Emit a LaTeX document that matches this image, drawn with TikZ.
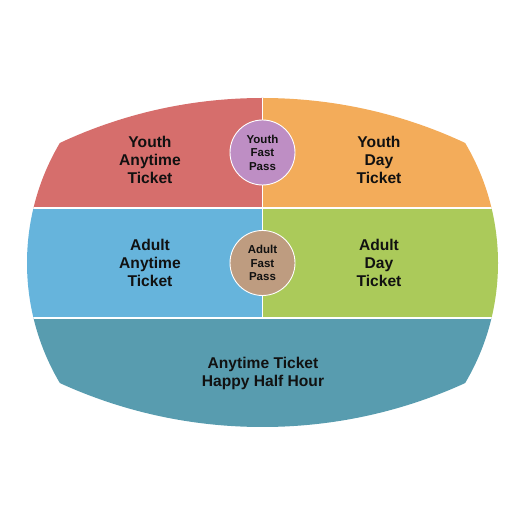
\documentclass[tikz,border=0pt]{standalone}
\usepackage{fontspec}
\setmainfont{Liberation Sans}
\definecolor{cRed}{HTML}{D66E6C}
\definecolor{cOrange}{HTML}{F3AC5A}
\definecolor{cBlue}{HTML}{66B4DC}
\definecolor{cGreen}{HTML}{ABCA5A}
\definecolor{cTeal}{HTML}{589CAF}
\definecolor{cPurple}{HTML}{BE8EC4}
\definecolor{cTan}{HTML}{BE9C80}
\definecolor{cText}{HTML}{111111}
\tikzset{
  bigtext/.style={text=cText, align=center, font=\fontsize{15.6}{17.8}\selectfont\bfseries, inner sep=0pt},
  smalltext/.style={text=cText, align=center, font=\fontsize{11.5}{13.6}\selectfont\bfseries, inner sep=0pt},
  pass/.style={circle, draw=white, line width=0.9pt, minimum size=65pt, inner sep=0pt},
  divider/.style={draw=white, line width=1.6pt}
}
\begin{document}
\begin{tikzpicture}[x=1pt,y=1pt]
\useasboundingbox (0,0) rectangle (525,525);
\coordinate (LL) at (0,207);
\coordinate (LR) at (525,207);
\coordinate (ML) at (0,317);
\coordinate (MR) at (525,317);
\coordinate (VB) at (262.5,207);
\coordinate (VT) at (262.5,525);
\begin{scope}
  \clip (262.5,262) circle[radius=235.5];
  \clip (262.5,-51) circle[radius=478];
  \clip (262.5,586) circle[radius=488];
  \fill[cRed] (0,317) rectangle (262.5,525);
  \fill[cOrange] (262.5,317) rectangle (525,525);
  \fill[cBlue] (0,207) rectangle (262.5,317);
  \fill[cGreen] (262.5,207) rectangle (525,317);
  \fill[cTeal] (0,0) rectangle (525,207);
  \draw[divider] (ML) -- (MR);
  \draw[divider] (LL) -- (LR);
  \draw[divider] (VB) -- (VT);
\end{scope}
\node[pass, fill=cPurple] (yfp) at (262.5,372.5) {};
\node[pass, fill=cTan] (afp) at (262.5,262) {};
\node[smalltext] (yfpt) at (yfp.center) {Youth\\Fast\\Pass};
\node[smalltext] (afpt) at (afp.center) {Adult\\Fast\\Pass};
\node[bigtext] (yat) at (150,365) {Youth\\Anytime\\Ticket};
\node[bigtext] (ydt) at (379,365) {Youth\\Day\\Ticket};
\node[bigtext] (aat) at (150,262) {Adult\\Anytime\\Ticket};
\node[bigtext] (adt) at (379,262) {Adult\\Day\\Ticket};
\node[bigtext] (hhh) at (263,151.5) {Anytime Ticket\\Happy Half Hour};
\end{tikzpicture}
\end{document}
